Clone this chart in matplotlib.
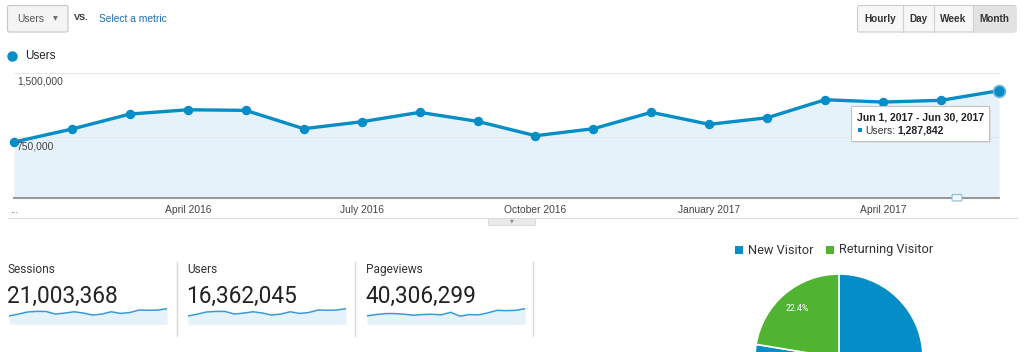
import numpy as np
import matplotlib
matplotlib.use('Agg')
import matplotlib.pyplot as plt
from matplotlib.patches import FancyBboxPatch, Rectangle

# monthly users, Jan 2016 - Jun 2017
months = ['Jan 2016', 'Feb 2016', 'Mar 2016', 'Apr 2016', 'May 2016', 'Jun 2016',
          'Jul 2016', 'Aug 2016', 'Sep 2016', 'Oct 2016', 'Nov 2016', 'Dec 2016',
          'Jan 2017', 'Feb 2017', 'Mar 2017', 'Apr 2017', 'May 2017', 'Jun 2017']
users = [688000, 840000, 1015000, 1065000, 1058000, 844000, 925000, 1035000, 930000,
         762000, 844000, 1035000, 895000, 972000, 1182000, 1155000, 1175000, 1287842]
sessions = [816000, 997000, 1205000, 1265000, 1256000, 1001000, 1098000, 1228000, 1103000,
            904000, 1001000, 1228000, 1061000, 1154000, 1400000, 1372000, 1390000, 1529000]
pageviews = [1745000, 2006000, 2207000, 2207000, 2066000, 1866000, 2006000, 2066000, 1946000,
             2467000, 1665000, 2006000, 1946000, 2347000, 2869000, 2808000, 2869000, 3210000]

tick_pos = [0, 3, 6, 9, 12, 15]
tick_labels = ['...', 'April 2016', 'July 2016', 'October 2016', 'January 2017', 'April 2017']
y_ticks = [750000, 1500000]
y_tick_labels = ['750,000', '1,500,000']

cards = ['Sessions', 'Users', 'Pageviews']
card_totals = ['21,003,368', '16,362,045', '40,306,299']
card_series = [sessions, users, pageviews]

pie_labels = ['New Visitor', 'Returning Visitor']
pie_values = [77.6, 22.4]

BLUE = '#058dc7'
GREEN = '#50b432'
FILL = '#e5f2fa'
W, H = 1024, 352

fig = plt.figure(figsize=(W / 100, H / 100), dpi=100)
fig.patch.set_facecolor('white')


def box(x0, y0, x1, y1):
    # pixel box (top-left origin) -> figure rect
    return [x0 / W, 1 - y1 / H, (x1 - x0) / W, (y1 - y0) / H]


# ---- main chart
ax = fig.add_axes(box(14, 72.5, 999, 198))
x = np.arange(len(users))
ax.fill_between(x, users, 35000, color=FILL, lw=0)
ax.plot(x, users, color=BLUE, lw=2.4, marker='o', ms=5.8, clip_on=False, zorder=4)
ax.plot(x[-1:], users[-1:], 'o', color=BLUE, ms=8.5, mec='#6db6e0', mew=1.2,
        clip_on=False, zorder=5)
ax.set_xlim(0, 17)
ax.set_ylim(35000, 1500000)
for v, lab in zip(y_ticks, y_tick_labels):
    ax.axhline(v, color='#e8e8e8', lw=0.8, zorder=1, clip_on=False)
    ax.annotate(lab, xy=(0, v), xycoords=('axes fraction', 'data'), xytext=(2, -3.2),
                textcoords='offset points', va='top', ha='left', fontsize=7.4,
                family='Liberation Sans', color='#444', zorder=6)
ax.set_yticks([])
ax.set_xticks(tick_pos)
ax.set_xticklabels(tick_labels, family='Liberation Sans', fontsize=7.4, color='#444')
ax.tick_params(axis='x', length=0, pad=5)
for s in ['top', 'left', 'right']:
    ax.spines[s].set_visible(False)
ax.spines['bottom'].set_color('#999999')
ax.spines['bottom'].set_linewidth(1.5)
ax.patch.set_alpha(0)

# ---- sparklines
spark_x = [(9, 167), (188, 346), (367, 525)]
for (x0, x1), ser in zip(spark_x, card_series):
    sa = fig.add_axes(box(x0, 304, x1, 324.3))
    xs = np.arange(len(ser))
    sa.fill_between(xs, ser, 0, color=FILL, lw=0)
    sa.plot(xs, ser, color='#3a9ad6', lw=1.1)
    sa.set_xlim(0, len(ser) - 1)
    sa.set_ylim(0, max(ser) * 1.3)
    sa.axis('off')

# ---- pie (center just below the bottom edge, so only the top shows)
cx, cy, r = 839, 358, 84
pa = fig.add_axes(box(cx - 1.25 * r, cy - 1.25 * r, cx + 1.25 * r, cy + 1.25 * r))
pa.pie(pie_values, colors=[BLUE, GREEN], startangle=90, counterclock=False,
       autopct=lambda p: f'{p:.1f}%' if p < 50 else '', pctdistance=0.77,
       wedgeprops=dict(edgecolor='white', linewidth=1.2),
       textprops=dict(color='white', fontsize=6.2, family='Roboto'))
pa.set_xlim(-1.25, 1.25)
pa.set_ylim(-1.25, 1.25)

# ---- overlay for the page chrome (pixel coords)
ov = fig.add_axes([0, 0, 1, 1], zorder=10)
ov.set_xlim(0, W)
ov.set_ylim(H, 0)
ov.axis('off')
ov.patch.set_alpha(0)

# metric dropdown
ov.add_patch(FancyBboxPatch((7.5, 5.5), 60.5, 26.5, boxstyle='round,pad=0,rounding_size=2',
                            fc='#f4f4f4', ec='#c6c6c6', lw=0.8))
ov.text(17, 19, 'Users', fontsize=7.4, color='#555', va='center', family='Liberation Sans')
ov.text(55, 18.5, '\u25bc', fontsize=4.5, color='#666', va='center', ha='center',
        family='DejaVu Sans')
ov.text(74, 17.5, 'VS.', fontsize=6.6, color='#333', va='center', fontweight='bold',
        family='Liberation Sans')
ov.text(99, 19, 'Select a metric', fontsize=7.4, color='#1f6fb6', va='center',
        family='Liberation Sans')

# time buttons
ov.add_patch(FancyBboxPatch((857.5, 5.5), 158.5, 26.5, boxstyle='round,pad=0,rounding_size=2',
                            fc='#f7f7f7', ec='#cccccc', lw=0.8))
ov.add_patch(Rectangle((973, 6), 42.5, 25.5, fc='#e2e2e2', ec='none'))
for dx in [902.5, 933.5, 973]:
    ov.plot([dx, dx], [5.5, 32], color='#d0d0d0', lw=0.8)
for lab, xc in zip(['Hourly', 'Day', 'Week', 'Month'], [880, 918, 953, 994.5]):
    ov.text(xc, 19, lab, fontsize=7.2, fontweight='bold', color='#333', ha='center',
            va='center', family='Liberation Sans')

# series legend
ov.plot(12, 56, 'o', color=BLUE, ms=6.5)
ov.text(25, 56, 'Users', fontsize=8.4, color='#222', va='center', family='Liberation Sans')

# rule + handle under the chart
ov.plot([8, 1017], [218, 218], color='#dddddd', lw=0.9)
ov.add_patch(Rectangle((488, 218), 47, 7, fc='#e9e9e9', ec='#d6d6d6', lw=0.6))
ov.text(511.5, 221.3, '\u25bc', fontsize=3.5, color='#888', ha='center', va='center',
        family='DejaVu Sans')

# annotation marker icon
ov.add_patch(FancyBboxPatch((952, 194.5), 10, 6.5, boxstyle='round,pad=0,rounding_size=1.2',
                            fc='#f2f8fc', ec='#8fb8d8', lw=0.8))

# tooltip
ov.add_patch(Rectangle((852.5, 107.5), 138, 35, fc='#cccccc', ec='none', alpha=0.5))
ov.add_patch(Rectangle((851, 106), 138, 35, fc='white', ec='#c4c4c4', lw=0.8))
ov.text(857, 117.5, 'Jun 1, 2017 - Jun 30, 2017', fontsize=7.5, fontweight='bold',
        color='#222', va='center', family='Liberation Sans')
ov.add_patch(Rectangle((857.5, 128), 4, 4, fc=BLUE, ec='none'))
ov.text(865.5, 130.5, 'Users:', fontsize=7.5, color='#333', va='center',
        family='Liberation Sans')
ov.text(897.5, 130.5, f'{users[-1]:,}', fontsize=7.5, fontweight='bold', color='#222',
        va='center', family='Liberation Sans')

# scorecards
for i, (lab, tot) in enumerate(zip(cards, card_totals)):
    x0 = [8, 187, 366][i]
    ov.text(x0, 269.5, lab, fontsize=8.6, color='#333', va='center', family='Roboto')
    ov.text(x0 - 1, 296, tot, fontsize=16.3, color='#222', va='center', family='Roboto')
for sx in [176.5, 354.5, 532.5]:
    ov.plot([sx, sx], [262, 336], color='#dadada', lw=1)

# pie legend
ov.add_patch(Rectangle((734.5, 245.5), 8.5, 8.5, fc=BLUE, ec='none'))
ov.text(748, 250, pie_labels[0], fontsize=9.2, color='#333', va='center', family='Roboto')
ov.add_patch(Rectangle((825.5, 245.5), 8.5, 8.5, fc=GREEN, ec='none'))
ov.text(839, 250, pie_labels[1], fontsize=9.2, color='#333', va='center', family='Roboto')

fig.savefig('out.png', dpi=100)
